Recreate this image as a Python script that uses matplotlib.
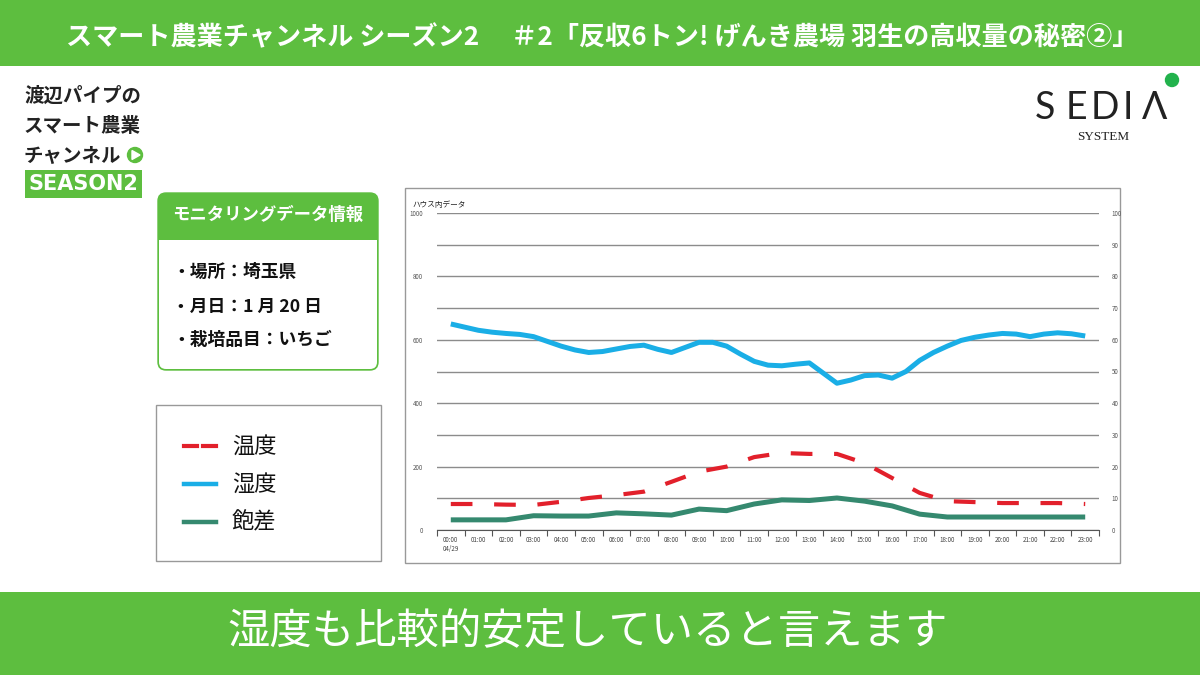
import numpy as np
import matplotlib.pyplot as plt
from matplotlib.patches import Rectangle, FancyBboxPatch, Circle, Polygon
from matplotlib.lines import Line2D

plt.rcParams['font.family'] = ['Noto Sans CJK JP', 'DejaVu Sans']

# --- data ---
hour_labels = ['00:00\n04/29'] + [f'{h:02d}:00' for h in range(1, 24)]
half_hours = np.arange(0, 23.5, 0.5)
humidity = [65.0, 64.0, 63.0, 62.4, 62.0, 61.7, 61.0, 59.5, 58.0, 56.8,
            56.0, 56.3, 57.1, 57.9, 58.3, 57.0, 56.0, 57.6, 59.2, 59.2,
            58.0, 55.5, 53.2, 52.0, 51.8, 52.3, 52.7, 49.5, 46.3, 47.3,
            48.7, 48.9, 47.9, 50.0, 53.5, 56.0, 58.0, 59.8, 60.8, 61.5,
            62.0, 61.8, 61.0, 61.8, 62.2, 61.9, 61.2]
temperature = [8.2, 8.2, 8.0, 7.9, 8.9, 10.1, 11.0, 12.1, 15.2, 18.4, 20.0, 23.0,
               24.3, 24.0, 24.0, 21.1, 16.4, 11.7, 9.1, 8.8, 8.5, 8.5, 8.5, 8.2]
deficit = [3.2, 3.2, 3.2, 4.5, 4.4, 4.4, 5.4, 5.1, 4.7, 6.6, 6.1, 8.2,
           9.5, 9.3, 10.1, 9.1, 7.6, 5.0, 4.1, 4.1, 4.1, 4.1, 4.1, 4.1]

GREEN = '#5dbe3f'
RED = '#e2202b'
BLUE = '#1aaee6'
TEAL = '#35896f'

fig = plt.figure(figsize=(12, 6.75), dpi=100)

# background / decoration layer in pixel coords
bg = fig.add_axes([0, 0, 1, 1])
bg.set_xlim(0, 1200)
bg.set_ylim(675, 0)
bg.axis('off')

# banners
bg.add_patch(Rectangle((0, 0), 1200, 66, color=GREEN, lw=0))
bg.add_patch(Rectangle((0, 592), 1200, 83, color=GREEN, lw=0))
bg.text(602, 38, 'スマート農業チャンネル シーズン2　 ＃2「反収6トン! げんき農場 羽生の高収量の秘密②」',
        color='white', fontsize=18.8, fontweight='bold', ha='center', va='center')
bg.text(588, 632, '湿度も比較的安定していると言えます', color='white', fontsize=30.5,
        ha='center', va='center')

# channel logo
for i, s in enumerate(['渡辺パイプの', 'スマート農業', 'チャンネル']):
    bg.text(24, 96 + 30 * i, s, fontsize=14, fontweight='bold', color='#222',
            ha='left', va='center')
bg.add_patch(Circle((135, 155), 7.5, color=GREEN))
bg.add_patch(Polygon([[132, 150.5], [132, 159.5], [140, 155]], color='white'))
bg.add_patch(Rectangle((25, 170), 117, 28, color=GREEN, lw=0))
bg.text(83.5, 184.5, 'SEASON2', color='white', fontsize=15, fontweight='bold',
        ha='center', va='center', family=['DejaVu Sans'])

# SEDIA logo
for x, ch in zip([1045, 1076, 1105, 1128, 1155], 'SEDIΛ'):
    bg.text(x, 108, ch, fontsize=27, color='#222', ha='center', va='center',
            family=['Lato', 'DejaVu Sans'])
bg.text(1103, 137, 'SYSTEM', fontsize=9.5, color='#222', ha='center', va='center',
        family=['Liberation Serif'])
bg.add_patch(Circle((1172, 80), 6.5, color='#22b24c'))

# info box
bg.add_patch(FancyBboxPatch((158, 193), 220, 177, boxstyle='round,pad=0,rounding_size=8',
                            fc=GREEN, ec=GREEN, lw=1))
bg.add_patch(FancyBboxPatch((159, 240), 218, 129, boxstyle='round,pad=0,rounding_size=7',
                            fc='white', ec='none'))
bg.add_patch(Rectangle((159, 240), 218, 15, fc='white', ec='none'))
bg.text(268, 215, 'モニタリングデータ情報', color='white', fontsize=12.5,
        fontweight='bold', ha='center', va='center')
for y, s in zip([272, 307, 340], ['・場所：埼玉県', '・月日：1 月 20 日', '・栽培品目：いちご']):
    bg.text(172, y, s, fontsize=12.8, fontweight='bold', color='#111', ha='left', va='center')

# legend box
bg.add_patch(Rectangle((156, 405), 225, 156, fc='white', ec='#999999', lw=1))
bg.add_line(Line2D([184, 197], [446, 446], color=RED, lw=3))
bg.add_line(Line2D([203, 216], [446, 446], color=RED, lw=3))
bg.add_line(Line2D([184, 216], [484, 484], color=BLUE, lw=3.2))
bg.add_line(Line2D([184, 216], [522, 522], color=TEAL, lw=3.2))
for y, s in zip([446, 484, 522], ['温度', '湿度', '飽差']):
    bg.text(232, y, s, fontsize=16, color='#111', ha='left', va='center')

# chart frame
bg.add_patch(Rectangle((405, 188), 715, 375, fc='white', ec='#999999', lw=1))
bg.text(412, 205, 'ハウス内データ', fontsize=5.5, color='#222', ha='left', va='center')

# chart axes
ax = fig.add_axes([437 / 1200, 145 / 675, 662 / 1200, 317 / 675])
ax.set_facecolor('none')
ax.set_xlim(-0.5, 23.5)
ax.set_ylim(0, 1000)
ax.set_yticks(range(0, 1001, 200))
ax.set_yticks(range(100, 1000, 200), minor=True)
ax.grid(axis='y', which='both', color='#8c8c8c', lw=1)
ax.tick_params(axis='y', which='both', length=0, labelsize=4.5, pad=10, colors='#555555')
ax.set_xticks(range(24))
ax.set_xticklabels(hour_labels)
ax.set_xticks(np.arange(-0.5, 24, 1), minor=True)
ax.tick_params(axis='x', which='major', length=0, labelsize=4.5, pad=4, colors='#444444')
ax.tick_params(axis='x', which='minor', length=4, width=0.8, color='#555555')
for s in ['top', 'right', 'left']:
    ax.spines[s].set_visible(False)
ax.spines['bottom'].set_color('#555555')
ax.set_axisbelow(True)

ax2 = ax.twinx()
ax2.set_ylim(0, 100)
ax2.set_yticks(range(0, 101, 10))
ax2.tick_params(axis='y', length=0, labelsize=4.5, pad=9, colors='#555555')
for s in ax2.spines.values():
    s.set_visible(False)

ax2.plot(half_hours, humidity, color=BLUE, lw=3.6, solid_capstyle='butt',
         solid_joinstyle='round')
ax2.plot(range(24), deficit, color=TEAL, lw=3.6, solid_capstyle='butt',
         solid_joinstyle='round')
ax2.plot(range(24), temperature, color=RED, lw=3, ls=(0, (5.2, 5.2)),
         dash_capstyle='butt')

fig.savefig('out.png', dpi=100)
